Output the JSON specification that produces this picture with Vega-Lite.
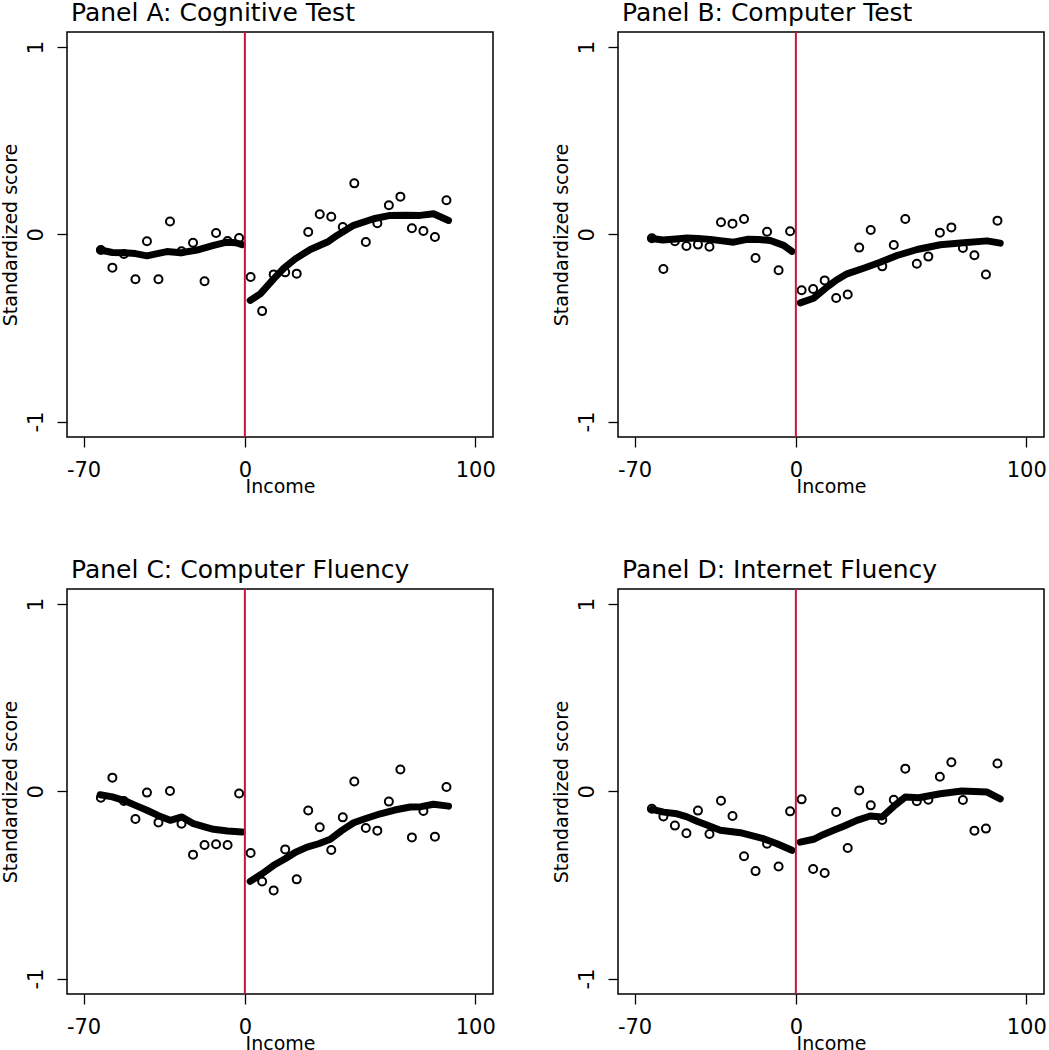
{
  "$schema": "https://vega.github.io/schema/vega-lite/v6.json",
  "padding": {"left": 0, "top": 0, "right": 0, "bottom": 0},
  "background": "white",
  "columns": 2,
  "spacing": {"column": 125, "row": 152},
  "bounds": "flush",
  "config": {
    "view": {"stroke": "black", "strokeWidth": 1.5},
    "axis": {"domain": false, "grid": false, "tickColor": "black", "tickWidth": 1.3, "tickSize": 10, "labelFont": "DejaVu Sans", "labelFontSize": 21, "labelColor": "black", "titleFont": "DejaVu Sans", "titleFontSize": 19, "titleFontWeight": "normal", "titleColor": "black"},
    "title": {"anchor": "start", "frame": "group", "font": "DejaVu Sans", "fontSize": 25, "fontWeight": "normal", "color": "black", "offset": 5, "dx": 4}
  },
  "datasets": {
    "pts": [
      {"p":"A","x":-62.5,"y":-0.084},{"p":"A","x":-57.5,"y":-0.178},{"p":"A","x":-52.5,"y":-0.105},{"p":"A","x":-47.5,"y":-0.240},{"p":"A","x":-42.5,"y":-0.037},{"p":"A","x":-37.5,"y":-0.240},{"p":"A","x":-32.5,"y":0.068},{"p":"A","x":-27.5,"y":-0.091},{"p":"A","x":-22.5,"y":-0.045},{"p":"A","x":-17.5,"y":-0.251},{"p":"A","x":-12.5,"y":0.007},{"p":"A","x":-7.5,"y":-0.036},{"p":"A","x":-2.5,"y":-0.020},
      {"p":"A","x":2.5,"y":-0.228},{"p":"A","x":7.5,"y":-0.410},{"p":"A","x":12.5,"y":-0.214},{"p":"A","x":17.5,"y":-0.203},{"p":"A","x":22.5,"y":-0.210},{"p":"A","x":27.5,"y":0.012},{"p":"A","x":32.5,"y":0.107},{"p":"A","x":37.5,"y":0.094},{"p":"A","x":42.5,"y":0.039},{"p":"A","x":47.5,"y":0.272},{"p":"A","x":52.5,"y":-0.041},{"p":"A","x":57.5,"y":0.059},{"p":"A","x":62.5,"y":0.155},{"p":"A","x":67.5,"y":0.201},{"p":"A","x":72.5,"y":0.032},{"p":"A","x":77.5,"y":0.018},{"p":"A","x":82.5,"y":-0.014},{"p":"A","x":87.5,"y":0.182},
      {"p":"B","x":-62.5,"y":-0.021},{"p":"B","x":-57.5,"y":-0.185},{"p":"B","x":-52.5,"y":-0.037},{"p":"B","x":-47.5,"y":-0.062},{"p":"B","x":-42.5,"y":-0.055},{"p":"B","x":-37.5,"y":-0.066},{"p":"B","x":-32.5,"y":0.064},{"p":"B","x":-27.5,"y":0.057},{"p":"B","x":-22.5,"y":0.082},{"p":"B","x":-17.5,"y":-0.126},{"p":"B","x":-12.5,"y":0.014},{"p":"B","x":-7.5,"y":-0.192},{"p":"B","x":-2.5,"y":0.016},
      {"p":"B","x":2.5,"y":-0.299},{"p":"B","x":7.5,"y":-0.292},{"p":"B","x":12.5,"y":-0.246},{"p":"B","x":17.5,"y":-0.340},{"p":"B","x":22.5,"y":-0.321},{"p":"B","x":27.5,"y":-0.071},{"p":"B","x":32.5,"y":0.023},{"p":"B","x":37.5,"y":-0.171},{"p":"B","x":42.5,"y":-0.057},{"p":"B","x":47.5,"y":0.082},{"p":"B","x":52.5,"y":-0.157},{"p":"B","x":57.5,"y":-0.119},{"p":"B","x":62.5,"y":0.009},{"p":"B","x":67.5,"y":0.037},{"p":"B","x":72.5,"y":-0.073},{"p":"B","x":77.5,"y":-0.112},{"p":"B","x":82.5,"y":-0.215},{"p":"B","x":87.5,"y":0.073},
      {"p":"C","x":-62.5,"y":-0.034},{"p":"C","x":-57.5,"y":0.073},{"p":"C","x":-52.5,"y":-0.052},{"p":"C","x":-47.5,"y":-0.148},{"p":"C","x":-42.5,"y":-0.007},{"p":"C","x":-37.5,"y":-0.166},{"p":"C","x":-32.5,"y":0.002},{"p":"C","x":-27.5,"y":-0.173},{"p":"C","x":-22.5,"y":-0.338},{"p":"C","x":-17.5,"y":-0.287},{"p":"C","x":-12.5,"y":-0.283},{"p":"C","x":-7.5,"y":-0.287},{"p":"C","x":-2.5,"y":-0.012},
      {"p":"C","x":2.5,"y":-0.329},{"p":"C","x":7.5,"y":-0.481},{"p":"C","x":12.5,"y":-0.529},{"p":"C","x":17.5,"y":-0.310},{"p":"C","x":22.5,"y":-0.470},{"p":"C","x":27.5,"y":-0.102},{"p":"C","x":32.5,"y":-0.192},{"p":"C","x":37.5,"y":-0.313},{"p":"C","x":42.5,"y":-0.139},{"p":"C","x":47.5,"y":0.052},{"p":"C","x":52.5,"y":-0.196},{"p":"C","x":57.5,"y":-0.210},{"p":"C","x":62.5,"y":-0.055},{"p":"C","x":67.5,"y":0.116},{"p":"C","x":72.5,"y":-0.246},{"p":"C","x":77.5,"y":-0.105},{"p":"C","x":82.5,"y":-0.242},{"p":"C","x":87.5,"y":0.023},
      {"p":"D","x":-62.5,"y":-0.093},{"p":"D","x":-57.5,"y":-0.134},{"p":"D","x":-52.5,"y":-0.183},{"p":"D","x":-47.5,"y":-0.224},{"p":"D","x":-42.5,"y":-0.103},{"p":"D","x":-37.5,"y":-0.228},{"p":"D","x":-32.5,"y":-0.050},{"p":"D","x":-27.5,"y":-0.132},{"p":"D","x":-22.5,"y":-0.347},{"p":"D","x":-17.5,"y":-0.426},{"p":"D","x":-12.5,"y":-0.280},{"p":"D","x":-7.5,"y":-0.401},{"p":"D","x":-2.5,"y":-0.107},
      {"p":"D","x":2.5,"y":-0.043},{"p":"D","x":7.5,"y":-0.415},{"p":"D","x":12.5,"y":-0.436},{"p":"D","x":17.5,"y":-0.110},{"p":"D","x":22.5,"y":-0.303},{"p":"D","x":27.5,"y":0.005},{"p":"D","x":32.5,"y":-0.075},{"p":"D","x":37.5,"y":-0.153},{"p":"D","x":42.5,"y":-0.045},{"p":"D","x":47.5,"y":0.121},{"p":"D","x":52.5,"y":-0.053},{"p":"D","x":57.5,"y":-0.045},{"p":"D","x":62.5,"y":0.078},{"p":"D","x":67.5,"y":0.155},{"p":"D","x":72.5,"y":-0.046},{"p":"D","x":77.5,"y":-0.210},{"p":"D","x":82.5,"y":-0.199},{"p":"D","x":87.5,"y":0.148}
    ],
    "fit": [
      {"p":"A","s":"L","x":-62.8,"y":-0.084},{"p":"A","s":"L","x":-57.5,"y":-0.097},{"p":"A","s":"L","x":-52.6,"y":-0.099},{"p":"A","s":"L","x":-47.5,"y":-0.103},{"p":"A","s":"L","x":-42.5,"y":-0.115},{"p":"A","s":"L","x":-37.5,"y":-0.102},{"p":"A","s":"L","x":-33.8,"y":-0.092},{"p":"A","s":"L","x":-28,"y":-0.099},{"p":"A","s":"L","x":-20.8,"y":-0.084},{"p":"A","s":"L","x":-13.6,"y":-0.059},{"p":"A","s":"L","x":-7.8,"y":-0.042},{"p":"A","s":"L","x":-4,"y":-0.045},{"p":"A","s":"L","x":-1.2,"y":-0.055},
      {"p":"A","s":"R","x":2.3,"y":-0.353},{"p":"A","s":"R","x":6.7,"y":-0.318},{"p":"A","s":"R","x":12.5,"y":-0.238},{"p":"A","s":"R","x":17,"y":-0.18},{"p":"A","s":"R","x":21.9,"y":-0.131},{"p":"A","s":"R","x":28.4,"y":-0.081},{"p":"A","s":"R","x":36.3,"y":-0.038},{"p":"A","s":"R","x":40,"y":-0.006},{"p":"A","s":"R","x":47.2,"y":0.048},{"p":"A","s":"R","x":55.9,"y":0.083},{"p":"A","s":"R","x":63.1,"y":0.101},{"p":"A","s":"R","x":70,"y":0.102},{"p":"A","s":"R","x":76.1,"y":0.101},{"p":"A","s":"R","x":81.9,"y":0.11},{"p":"A","s":"R","x":88.4,"y":0.074},
      {"p":"B","s":"L","x":-62.4,"y":-0.022},{"p":"B","s":"L","x":-57.8,"y":-0.03},{"p":"B","s":"L","x":-52,"y":-0.025},{"p":"B","s":"L","x":-47.3,"y":-0.02},{"p":"B","s":"L","x":-42.5,"y":-0.022},{"p":"B","s":"L","x":-37.1,"y":-0.027},{"p":"B","s":"L","x":-32,"y":-0.035},{"p":"B","s":"L","x":-27,"y":-0.042},{"p":"B","s":"L","x":-21.2,"y":-0.027},{"p":"B","s":"L","x":-16,"y":-0.028},{"p":"B","s":"L","x":-11.1,"y":-0.033},{"p":"B","s":"L","x":-5.3,"y":-0.059},{"p":"B","s":"L","x":-1.7,"y":-0.091},
      {"p":"B","s":"R","x":1.9,"y":-0.366},{"p":"B","s":"R","x":7.7,"y":-0.341},{"p":"B","s":"R","x":13.5,"y":-0.282},{"p":"B","s":"R","x":17.5,"y":-0.245},{"p":"B","s":"R","x":22.2,"y":-0.211},{"p":"B","s":"R","x":29.4,"y":-0.181},{"p":"B","s":"R","x":36.6,"y":-0.149},{"p":"B","s":"R","x":43.9,"y":-0.113},{"p":"B","s":"R","x":52.6,"y":-0.081},{"p":"B","s":"R","x":62.7,"y":-0.056},{"p":"B","s":"R","x":72.8,"y":-0.045},{"p":"B","s":"R","x":83,"y":-0.035},{"p":"B","s":"R","x":88.7,"y":-0.047},
      {"p":"C","s":"L","x":-62.8,"y":-0.018},{"p":"C","s":"L","x":-57.5,"y":-0.03},{"p":"C","s":"L","x":-52.6,"y":-0.048},{"p":"C","s":"L","x":-47.5,"y":-0.075},{"p":"C","s":"L","x":-42.5,"y":-0.101},{"p":"C","s":"L","x":-37.5,"y":-0.13},{"p":"C","s":"L","x":-32.4,"y":-0.155},{"p":"C","s":"L","x":-27.3,"y":-0.137},{"p":"C","s":"L","x":-22.3,"y":-0.173},{"p":"C","s":"L","x":-17.5,"y":-0.19},{"p":"C","s":"L","x":-13.6,"y":-0.203},{"p":"C","s":"L","x":-7.5,"y":-0.212},{"p":"C","s":"L","x":-1.2,"y":-0.217},
      {"p":"C","s":"R","x":2.3,"y":-0.481},{"p":"C","s":"R","x":7.5,"y":-0.44},{"p":"C","s":"R","x":12.5,"y":-0.395},{"p":"C","s":"R","x":17.5,"y":-0.36},{"p":"C","s":"R","x":22,"y":-0.325},{"p":"C","s":"R","x":27,"y":-0.298},{"p":"C","s":"R","x":32,"y":-0.28},{"p":"C","s":"R","x":37.1,"y":-0.256},{"p":"C","s":"R","x":42,"y":-0.21},{"p":"C","s":"R","x":47.2,"y":-0.168},{"p":"C","s":"R","x":52.5,"y":-0.145},{"p":"C","s":"R","x":58.8,"y":-0.12},{"p":"C","s":"R","x":65,"y":-0.1},{"p":"C","s":"R","x":71.8,"y":-0.084},{"p":"C","s":"R","x":76.5,"y":-0.082},{"p":"C","s":"R","x":81.9,"y":-0.069},{"p":"C","s":"R","x":88.4,"y":-0.079},
      {"p":"D","s":"L","x":-62.4,"y":-0.096},{"p":"D","s":"L","x":-57.4,"y":-0.111},{"p":"D","s":"L","x":-51.6,"y":-0.12},{"p":"D","s":"L","x":-47.5,"y":-0.135},{"p":"D","s":"L","x":-42.9,"y":-0.16},{"p":"D","s":"L","x":-37.5,"y":-0.185},{"p":"D","s":"L","x":-32.8,"y":-0.208},{"p":"D","s":"L","x":-24.1,"y":-0.221},{"p":"D","s":"L","x":-14,"y":-0.253},{"p":"D","s":"L","x":-8.2,"y":-0.28},{"p":"D","s":"L","x":-1.7,"y":-0.315},
      {"p":"D","s":"R","x":1.9,"y":-0.271},{"p":"D","s":"R","x":7.7,"y":-0.256},{"p":"D","s":"R","x":12,"y":-0.23},{"p":"D","s":"R","x":16.4,"y":-0.208},{"p":"D","s":"R","x":21,"y":-0.185},{"p":"D","s":"R","x":26.5,"y":-0.155},{"p":"D","s":"R","x":32.3,"y":-0.132},{"p":"D","s":"R","x":37.4,"y":-0.137},{"p":"D","s":"R","x":42.5,"y":-0.08},{"p":"D","s":"R","x":47.5,"y":-0.03},{"p":"D","s":"R","x":53.3,"y":-0.034},{"p":"D","s":"R","x":62.7,"y":-0.013},{"p":"D","s":"R","x":72.1,"y":0.002},{"p":"D","s":"R","x":83,"y":-0.004},{"p":"D","s":"R","x":88.7,"y":-0.04}
    ],
    "cut": [{"x": 0}]
  },
  "concat": [
    {
      "width": 426, "height": 405,
      "title": "Panel A: Cognitive Test",
      "layer": [
        {"data": {"name": "pts"}, "transform": [{"filter": "datum.p === 'A'"}],
         "mark": {"type": "point", "shape": "circle", "filled": false, "stroke": "black", "strokeWidth": 2, "size": 64, "opacity": 1},
         "encoding": {
           "x": {"field": "x", "type": "quantitative", "scale": {"domain": [-77.2, 107.7], "nice": false, "zero": false}, "axis": {"values": [-70, 0, 100], "labelExpr": "datum.value < 0 ? '-' + abs(datum.value) : '' + datum.value", "title": "Income", "labelPadding": 12, "titlePadding": -3, "labelFlush": false}},
           "y": {"field": "y", "type": "quantitative", "scale": {"domain": [-1.082, 1.08], "nice": false, "zero": false}, "axis": {"values": [-1, 0, 1], "labelExpr": "datum.value < 0 ? '-' + abs(datum.value) : '' + datum.value", "title": "Standardized score", "labelAngle": 270, "labelAlign": "center", "labelBaseline": "bottom", "labelPadding": 11, "titlePadding": 5}}
         }},
        {"data": {"name": "fit"}, "transform": [{"filter": "datum.p === 'A'"}],
         "mark": {"type": "line", "color": "black", "strokeWidth": 7, "strokeCap": "round", "strokeJoin": "round"},
         "encoding": {"x": {"field": "x", "type": "quantitative"}, "y": {"field": "y", "type": "quantitative"}, "detail": {"field": "s"}}},
        {"data": {"name": "cut"}, "mark": {"type": "rule", "color": "#c8143c", "strokeWidth": 2},
         "encoding": {"x": {"field": "x", "type": "quantitative"}}}
      ]
    },
    {
      "width": 426, "height": 405,
      "title": "Panel B: Computer Test",
      "layer": [
        {"data": {"name": "pts"}, "transform": [{"filter": "datum.p === 'B'"}],
         "mark": {"type": "point", "shape": "circle", "filled": false, "stroke": "black", "strokeWidth": 2, "size": 64, "opacity": 1},
         "encoding": {
           "x": {"field": "x", "type": "quantitative", "scale": {"domain": [-77.2, 107.7], "nice": false, "zero": false}, "axis": {"values": [-70, 0, 100], "labelExpr": "datum.value < 0 ? '-' + abs(datum.value) : '' + datum.value", "title": "Income", "labelPadding": 12, "titlePadding": -3, "labelFlush": false}},
           "y": {"field": "y", "type": "quantitative", "scale": {"domain": [-1.082, 1.08], "nice": false, "zero": false}, "axis": {"values": [-1, 0, 1], "labelExpr": "datum.value < 0 ? '-' + abs(datum.value) : '' + datum.value", "title": "Standardized score", "labelAngle": 270, "labelAlign": "center", "labelBaseline": "bottom", "labelPadding": 11, "titlePadding": 5}}
         }},
        {"data": {"name": "fit"}, "transform": [{"filter": "datum.p === 'B'"}],
         "mark": {"type": "line", "color": "black", "strokeWidth": 7, "strokeCap": "round", "strokeJoin": "round"},
         "encoding": {"x": {"field": "x", "type": "quantitative"}, "y": {"field": "y", "type": "quantitative"}, "detail": {"field": "s"}}},
        {"data": {"name": "cut"}, "mark": {"type": "rule", "color": "#c8143c", "strokeWidth": 2},
         "encoding": {"x": {"field": "x", "type": "quantitative"}}}
      ]
    },
    {
      "width": 426, "height": 405,
      "title": "Panel C: Computer Fluency",
      "layer": [
        {"data": {"name": "pts"}, "transform": [{"filter": "datum.p === 'C'"}],
         "mark": {"type": "point", "shape": "circle", "filled": false, "stroke": "black", "strokeWidth": 2, "size": 64, "opacity": 1},
         "encoding": {
           "x": {"field": "x", "type": "quantitative", "scale": {"domain": [-77.2, 107.7], "nice": false, "zero": false}, "axis": {"values": [-70, 0, 100], "labelExpr": "datum.value < 0 ? '-' + abs(datum.value) : '' + datum.value", "title": "Income", "labelPadding": 12, "titlePadding": -3, "labelFlush": false}},
           "y": {"field": "y", "type": "quantitative", "scale": {"domain": [-1.082, 1.08], "nice": false, "zero": false}, "axis": {"values": [-1, 0, 1], "labelExpr": "datum.value < 0 ? '-' + abs(datum.value) : '' + datum.value", "title": "Standardized score", "labelAngle": 270, "labelAlign": "center", "labelBaseline": "bottom", "labelPadding": 11, "titlePadding": 5}}
         }},
        {"data": {"name": "fit"}, "transform": [{"filter": "datum.p === 'C'"}],
         "mark": {"type": "line", "color": "black", "strokeWidth": 7, "strokeCap": "round", "strokeJoin": "round"},
         "encoding": {"x": {"field": "x", "type": "quantitative"}, "y": {"field": "y", "type": "quantitative"}, "detail": {"field": "s"}}},
        {"data": {"name": "cut"}, "mark": {"type": "rule", "color": "#c8143c", "strokeWidth": 2},
         "encoding": {"x": {"field": "x", "type": "quantitative"}}}
      ]
    },
    {
      "width": 426, "height": 405,
      "title": "Panel D: Internet Fluency",
      "layer": [
        {"data": {"name": "pts"}, "transform": [{"filter": "datum.p === 'D'"}],
         "mark": {"type": "point", "shape": "circle", "filled": false, "stroke": "black", "strokeWidth": 2, "size": 64, "opacity": 1},
         "encoding": {
           "x": {"field": "x", "type": "quantitative", "scale": {"domain": [-77.2, 107.7], "nice": false, "zero": false}, "axis": {"values": [-70, 0, 100], "labelExpr": "datum.value < 0 ? '-' + abs(datum.value) : '' + datum.value", "title": "Income", "labelPadding": 12, "titlePadding": -3, "labelFlush": false}},
           "y": {"field": "y", "type": "quantitative", "scale": {"domain": [-1.082, 1.08], "nice": false, "zero": false}, "axis": {"values": [-1, 0, 1], "labelExpr": "datum.value < 0 ? '-' + abs(datum.value) : '' + datum.value", "title": "Standardized score", "labelAngle": 270, "labelAlign": "center", "labelBaseline": "bottom", "labelPadding": 11, "titlePadding": 5}}
         }},
        {"data": {"name": "fit"}, "transform": [{"filter": "datum.p === 'D'"}],
         "mark": {"type": "line", "color": "black", "strokeWidth": 7, "strokeCap": "round", "strokeJoin": "round"},
         "encoding": {"x": {"field": "x", "type": "quantitative"}, "y": {"field": "y", "type": "quantitative"}, "detail": {"field": "s"}}},
        {"data": {"name": "cut"}, "mark": {"type": "rule", "color": "#c8143c", "strokeWidth": 2},
         "encoding": {"x": {"field": "x", "type": "quantitative"}}}
      ]
    }
  ]
}
